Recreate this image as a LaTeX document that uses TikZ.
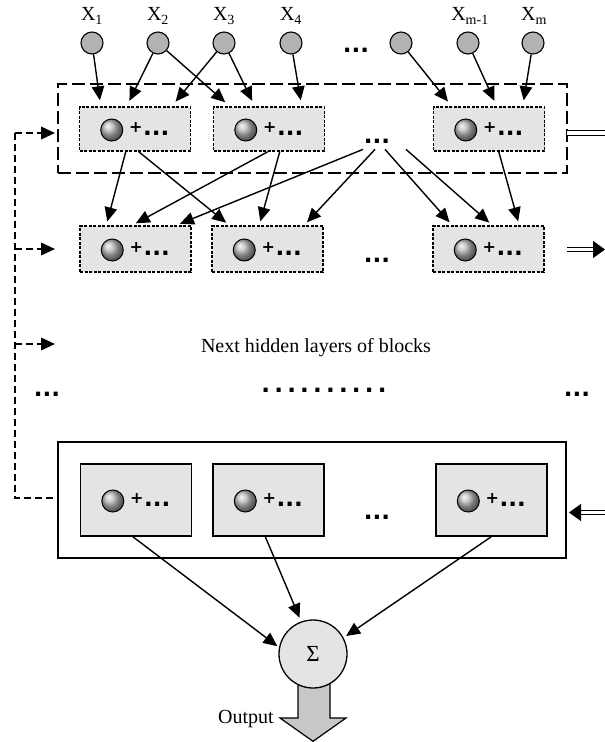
\documentclass[tikz,border=0pt]{standalone}
\usepackage{fontspec}
\setmainfont{Liberation Serif}
\newfontfamily\dvs{DejaVu Sans}
\usetikzlibrary{arrows.meta,calc}
\definecolor{incirc}{RGB}{178,178,178}
\definecolor{boxfill}{RGB}{228,228,228}
\definecolor{outfill}{RGB}{200,200,200}
\newcommand\blkin[1]{%
  \shadedraw[ball color=gray!55, line width=1pt] ([xshift=33pt,yshift=-1pt]#1.west) circle[radius=11pt];
  \node[pls] (#1p) at ([xshift=57pt,yshift=2pt]#1.west) {+};
  \node[dts] (#1d) at ([xshift=77.5pt,yshift=-4.5pt]#1.west) {...};}
\begin{document}
\begin{tikzpicture}[x=1pt,y=-1pt,
  inp/.style={circle,draw,line width=1.1pt,fill=incirc,minimum size=22pt,inner sep=0},
  blkA/.style={draw,fill=boxfill,line width=1.5pt,dash pattern=on 3pt off 1.5pt,minimum width=111pt,minimum height=44pt,inner sep=0},
  blkC/.style={draw,fill=boxfill,line width=1.4pt,minimum width=111pt,minimum height=72pt,inner sep=0},
  arr/.style={line width=1.4pt,-{Triangle[length=14pt,width=12.5pt]}},
  arrIn/.style={arr,shorten >=6pt},
  arrMid/.style={arr,shorten >=4pt},
  fb/.style={line width=2.2pt,dash pattern=on 7pt off 4pt},
  dbl/.style={line width=1.2pt,double,double distance=3.2pt},
  lbl/.style={font=\fontsize{20}{23}\selectfont,inner sep=0},
  xl/.style={font=\fontsize{20}{23}\selectfont,inner sep=0},
  dts/.style={font=\dvs\bfseries\fontsize{23}{23}\selectfont,inner sep=0},
  pls/.style={font=\dvs\bfseries\fontsize{16}{16}\selectfont,inner sep=0},
]
\useasboundingbox (0,0) rectangle (605,742);

% inputs
\node[inp] (x1) at (92,43) {};
\node[inp] (x2) at (158,43) {};
\node[inp] (x3) at (224,43) {};
\node[inp] (x4) at (291,43) {};
\node[inp] (xk) at (401,43) {};
\node[inp] (xm1) at (468,43) {};
\node[inp] (xm) at (533,43) {};
\node[xl] (l1) at (92,16) {X\textsubscript{1}};
\node[xl] (l2) at (158,16) {X\textsubscript{2}};
\node[xl] (l3) at (224,16) {X\textsubscript{3}};
\node[xl] (l4) at (291,16) {X\textsubscript{4}};
\node[xl] (lm1) at (470,16) {X\textsubscript{m-1}};
\node[xl] (lm) at (534,16) {X\textsubscript{m}};
\node[dts] (xd) at (356,50) {...};

% first layer
\node[draw,line width=2.2pt,dash pattern=on 13pt off 5pt,minimum width=509pt,minimum height=89pt,inner sep=0] (top) at (312.5,128.5) {};
\node[blkA] (b11) at (135,129) {};
\node[blkA] (b12) at (269,129) {};
\node[blkA] (b13) at (489,129) {};
\blkin{b11}\blkin{b12}\blkin{b13}
\node[dts] (m1) at (377,141) {...};

% second layer
\node[blkA,minimum height=46pt] (b21) at (135.5,249) {};
\node[blkA,minimum height=46pt] (b22) at (267.5,249) {};
\node[blkA,minimum height=46pt] (b23) at (488.5,249) {};
\blkin{b21}\blkin{b22}\blkin{b23}
\node[dts] (m2) at (377,260) {...};

% middle text
\node[lbl] (nh) at (316,348) {Next hidden layers of blocks};
\node[dts] (dl) at (47,394) {...};
\node[dts] (dr) at (577,394) {...};
\node[dts] (dm) at (324,390) {.\hspace{4.2pt}.\hspace{4.2pt}.\hspace{4.2pt}.\hspace{4.2pt}.\hspace{4.2pt}.\hspace{4.2pt}.\hspace{4.2pt}.\hspace{4.2pt}.\hspace{4.2pt}.};

% last layer
\node[draw,line width=1.5pt,fill=white,minimum width=508pt,minimum height=116pt,inner sep=0] (bot) at (312,500) {};
\node[blkC] (b31) at (136,500) {};
\node[blkC] (b32) at (268.5,500) {};
\node[blkC] (b33) at (491.5,500) {};
\blkin{b31}\blkin{b32}\blkin{b33}
\node[dts] (m3) at (377,517) {...};

% output
\draw[line width=1.2pt,fill=outfill] (298,680) -- (330,680) -- (330,718) -- (346,718) -- (313,741.3) -- (280,718) -- (298,718) -- cycle;
\node[circle,draw,line width=1.3pt,fill=boxfill,minimum size=68pt,inner sep=0,font=\fontsize{23}{26}\selectfont] (sig) at (313,654) {Σ};
\node[lbl,anchor=east] (out) at (274,719) {Output};

% input connectors
\draw[arrIn] (x1) -- ([xshift=22pt]b11.north west);
\draw[arrIn] (x2) -- ([xshift=48pt]b11.north west);
\draw[arrIn] (x2) -- ([xshift=17pt]b12.north west);
\draw[arrIn] (x3) -- ([xshift=93pt]b11.north west);
\draw[arrIn] (x3) -- ([xshift=42pt]b12.north west);
\draw[arrIn] (x4) -- ([xshift=89pt]b12.north west);
\draw[arrIn] (xk) -- ([xshift=19pt]b13.north west);
\draw[arrIn] (xm1) -- ([xshift=64pt]b13.north west);
\draw[arrIn] (xm) -- ([xshift=90pt]b13.north west);

% layer 1 -> layer 2
\draw[arrMid] ([xshift=47pt]b11.south west) -- ([xshift=27pt]b21.north west);
\draw[arrMid] ([xshift=60pt]b11.south west) -- ([xshift=18pt]b22.north west);
\draw[arrMid] ([xshift=55pt]b12.south west) -- ([xshift=53pt]b21.north west);
\draw[arrMid] ([xshift=67pt]b12.south west) -- ([xshift=48pt]b22.north west);
\draw[arrMid] ([xshift=-14pt,yshift=-6pt]m1.south) -- ([xshift=97pt]b21.north west);
\draw[arrMid] ([xshift=-2pt,yshift=-6pt]m1.south) -- ([xshift=93pt]b22.north west);
\draw[arrMid] ([xshift=8pt,yshift=-6pt]m1.south) -- ([xshift=20pt]b23.north west);
\draw[arrMid] ([xshift=29pt,yshift=-6pt]m1.south) -- ([xshift=60pt]b23.north west);
\draw[arrMid] ([xshift=66pt]b13.south west) -- ([xshift=87pt]b23.north west);

% last layer -> sum
\draw[arr,shorten >=2pt] ([xshift=53pt]b31.south west) -- (sig.169);
\draw[arr,shorten >=4pt] ([xshift=53pt]b32.south west) -- (sig.110);
\draw[arr,shorten >=3pt] ([xshift=56pt]b33.south west) -- (sig.28);

% feedback
\coordinate (fA) at (15,133);
\coordinate (fB) at (15,249);
\coordinate (fC) at (15,344);
\coordinate (fD) at (15,498);
\coordinate (tA) at (55,133);
\coordinate (tB) at (55,249);
\coordinate (tC) at (55,344);
\draw[fb] (fA) -- (fD) -- (fD -| bot.west);
\draw[fb,-{Triangle[length=14pt,width=12.5pt]}] (fA) -- (tA);
\draw[fb,-{Triangle[length=14pt,width=12.5pt]}] (fB) -- (tB);
\draw[fb,-{Triangle[length=14pt,width=12.5pt]}] (fC) -- (tC);

% right side double arrows
\coordinate (rA1) at (567,133);
\coordinate (rA2) at (605,133);
\coordinate (rB1) at (567,249.5);
\coordinate (rB2) at (605,249.5);
\coordinate (rC1) at (605,512.5);
\coordinate (rC2) at (569,512.5);
\draw[dbl] (rA1) -- (rA2);
\draw[dbl,-{Triangle[length=12pt,width=17pt]}] (rB1) -- (rB2);
\draw[dbl,-{Triangle[length=12pt,width=17pt]}] (rC1) -- (rC2);
\end{tikzpicture}
\end{document}
